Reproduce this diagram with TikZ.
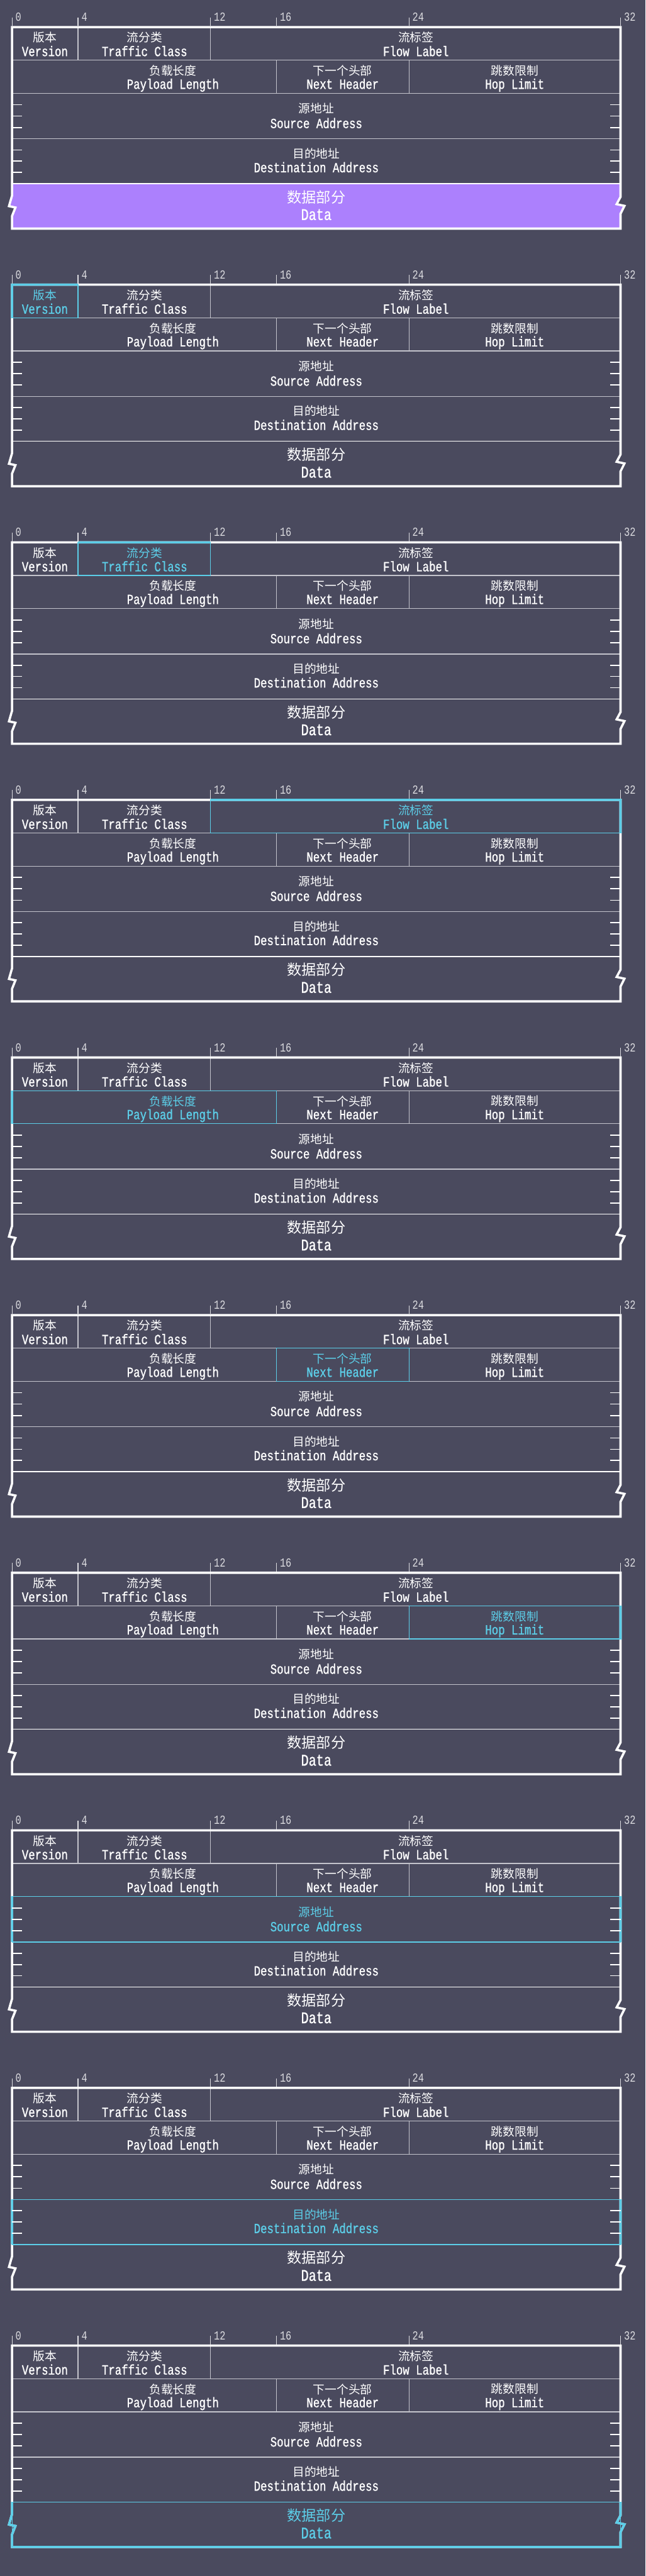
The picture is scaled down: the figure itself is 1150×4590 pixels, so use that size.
\documentclass[tikz,border=0pt]{standalone}
\usepackage{fontspec}
\newfontfamily\cjk{Noto Sans CJK SC}
\newfontfamily\lat[FakeStretch=0.78,FakeBold=1]{Liberation Mono}
\newfontfamily\latr[FakeStretch=0.78]{Liberation Mono}
\definecolor{bgc}{RGB}{74,74,94}
\definecolor{hlc}{RGB}{92,206,232}
\definecolor{pur}{RGB}{172,128,253}
\definecolor{gline}{RGB}{196,196,204}
\definecolor{rulc}{RGB}{220,220,224}
\tikzset{
  outer/.style={line width=4pt, line join=miter},
  innerline/.style={line width=1.5pt, draw=gline},
  adtick/.style={line width=2pt, draw=white},
  rultick/.style={line width=1.5pt, draw=rulc},
  rullbl/.style={font=\latr\fontsize{22}{22}\selectfont, text=rulc, inner sep=0pt, anchor=base west},
  zh/.style={font=\cjk\fontsize{21}{21}\selectfont, inner sep=0pt, anchor=center},
  zhb/.style={font=\cjk\fontsize{26}{26}\selectfont, inner sep=0pt, anchor=center},
  en/.style={font=\lat\fontsize{25}{25}\selectfont, inner sep=0pt, anchor=base},
  enb/.style={font=\lat\fontsize{29}{29}\selectfont, inner sep=0pt, anchor=base},
}
\newcommand\outerdraw[1]{\draw[#1] (21.5,0) -- (1105.5,0) -- (1105.5,302.5) -- (1098.5,315.5) -- (1112.5,318.5) -- (1105.5,332.5) -- (1105.5,359) -- (21.5,359) -- (21.5,336.5) -- (27.5,321.5) -- (16,319) -- (21.5,300) -- cycle;}
\newcommand\hlbox[8]{%
  \draw[hlc, line width=1.5pt] (#1,#2) rectangle (#3,#4);
  \begin{scope}
    \clip ({#1-12*#5},{#2-12*#6}) rectangle ({#3+12*#7},{#4+12*#8});
    \outerdraw{outer, hlc}
  \end{scope}}
\newcommand\ftext[8]{%
  \ifnum\pid=#1\relax\def\fcol{hlc}\else\def\fcol{white}\fi
  \node[zh#8, text=\fcol] (#2-\pid-zh) at (#3,#4) {#6};
  \node[en#8, text=\fcol] (#2-\pid-en) at (#3,#5) {#7};}
\newcommand\panel[1]{%
  \def\pid{#1}%
  \begin{scope}[shift={(0,{48.3+459*#1})}]
    \ifnum#1=0
      \fill[pur] (21.5,279) -- (1105.5,279) -- (1105.5,302.5) -- (1098.5,315.5) -- (1112.5,318.5) -- (1105.5,332.5) -- (1105.5,359) -- (21.5,359) -- (21.5,336.5) -- (27.5,321.5) -- (16,319) -- (21.5,300) -- cycle;
    \fi
    \draw[innerline] (21.5,59) -- (1105.5,59);
    \draw[innerline] (21.5,118) -- (1105.5,118);
    \draw[innerline] (21.5,199) -- (1105.5,199);
    \draw[innerline, draw=white] (21.5,279) -- (1105.5,279);
    \draw[innerline] (139,0) -- (139,59);
    \draw[innerline] (375,0) -- (375,59);
    \draw[innerline] (492.5,59) -- (492.5,118);
    \draw[innerline] (728.6,59) -- (728.6,118);
    \outerdraw{outer, white}
    \ifcase#1
    \or \hlbox{21.5}{0}{139}{59}{1}{1}{0}{0}
    \or \hlbox{139}{0}{375}{59}{0}{1}{0}{0}
    \or \hlbox{375}{0}{1105.5}{59}{0}{1}{1}{0}
    \or \hlbox{21.5}{59}{492.5}{118}{1}{0}{0}{0}
    \or \hlbox{492.5}{59}{728.6}{118}{0}{0}{0}{0}
    \or \hlbox{728.6}{59}{1105.5}{118}{0}{0}{1}{0}
    \or \hlbox{21.5}{118}{1105.5}{199}{1}{0}{1}{0}
    \or \hlbox{21.5}{199}{1105.5}{279}{1}{0}{1}{0}
    \or \hlbox{21.5}{279}{1105.5}{359}{1}{0}{1}{1}
    \fi
    \foreach \y in {138.25,158.5,178.75,219,239,259} {
      \draw[adtick] (21.5,\y) -- (39.5,\y);
      \draw[adtick] (1087.5,\y) -- (1105.5,\y);
    }
    \foreach \x/\l in {21.5/0,139/4,375/12,492.5/16,728.6/24,1105.5/32} {
      \draw[rultick] (\x,-17.3) -- (\x,-2);
      \node[rullbl] (rul-\pid-\l) at (\x+6,-10.5) {\l};
    }
    \ftext{1}{ver}{80}{18.7}{51.7}{版本}{Version}{}
    \ftext{2}{tc}{257.5}{18.7}{51.7}{流分类}{Traffic Class}{}
    \ftext{3}{fl}{741}{18.7}{51.7}{流标签}{Flow Label}{}
    \ftext{4}{pl}{308}{77.7}{110}{负载长度}{Payload Length}{}
    \ftext{5}{nh}{610.5}{77.7}{110}{下一个头部}{Next Header}{}
    \ftext{6}{hl}{917}{77.7}{110}{跳数限制}{Hop Limit}{}
    \ftext{7}{sa}{563.5}{145.2}{180}{源地址}{Source Address}{}
    \ftext{8}{da}{563.5}{225.2}{258.7}{目的地址}{Destination Address}{}
    \ftext{9}{dt}{563.5}{302.7}{343.7}{数据部分}{Data}{b}
  \end{scope}}
\begin{document}
\begin{tikzpicture}[x=1pt,y=-1pt]
  \useasboundingbox (0,0) rectangle (1150,4590);
  \fill[bgc] (0,0) rectangle (1150,4590);
  \panel{0}
  \panel{1}
  \panel{2}
  \panel{3}
  \panel{4}
  \panel{5}
  \panel{6}
  \panel{7}
  \panel{8}
  \panel{9}
\end{tikzpicture}
\end{document}
